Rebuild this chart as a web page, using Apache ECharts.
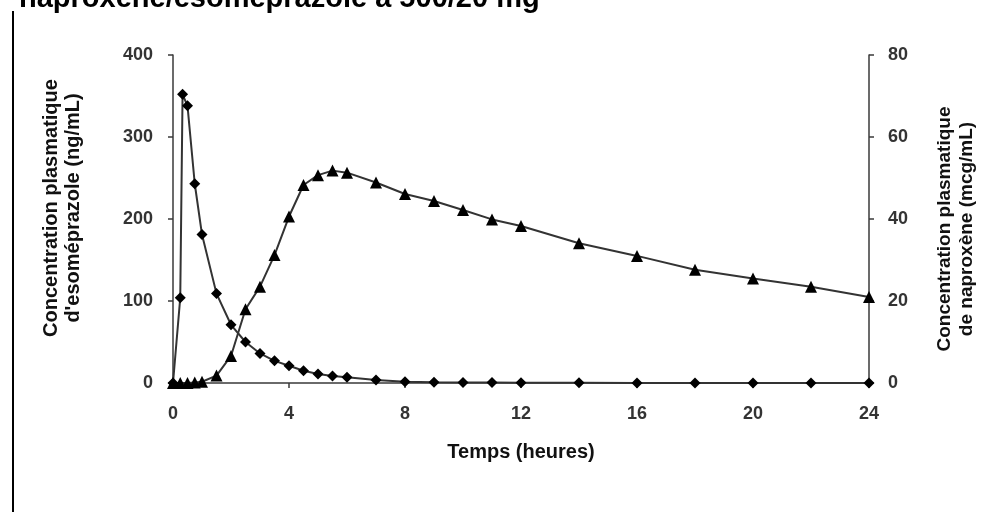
<!DOCTYPE html>
<html>
<head>
<meta charset="utf-8">
<script src="https://cdn.jsdelivr.net/npm/echarts@6/dist/echarts.min.js"></script>
<style>
html,body{margin:0;padding:0;background:#fff;}
#chart{width:987px;height:512px;}
</style>
</head>
<body>
<div id="chart"></div>
<script>
// Data
var esoTimes = [0, 0.25, 0.33, 0.5, 0.75, 1, 1.5, 2, 2.5, 3, 3.5, 4, 4.5, 5, 5.5, 6, 7, 8, 9, 10, 11, 12, 14, 16, 18, 20, 22, 24];
var esoValues = [0, 104, 352, 338, 243, 181, 109, 71, 50, 36, 27, 21, 15, 11, 8.5, 7, 3.7, 1.5, 1, 0.7, 0.5, 0.3, 0.2, 0.1, 0, 0, 0, 0];
var napTimes = [0, 0.25, 0.5, 0.75, 1, 1.5, 2, 2.5, 3, 3.5, 4, 4.5, 5, 5.5, 6, 7, 8, 9, 10, 11, 12, 14, 16, 18, 20, 22, 24];
var napValues = [0, 0, 0, 0.1, 0.3, 1.8, 6.6, 18, 23.5, 31.2, 40.6, 48.3, 50.7, 51.8, 51.3, 48.9, 46.1, 44.4, 42.2, 39.9, 38.3, 34.1, 31, 27.6, 25.5, 23.5, 21];
var xTicks = [0, 4, 8, 12, 16, 20, 24];
var leftTicks = [0, 100, 200, 300, 400];
var rightTicks = [0, 20, 40, 60, 80];
var titleText = "naproxène/esoméprazole à 500/20 mg";
var xName = "Temps (heures)";
var leftName = "Concentration plasmatique\nd'esoméprazole (ng/mL)";
var rightName = "Concentration plasmatique\nde naproxène (mcg/mL)";

function pairs(xs, ys){ return xs.map(function(x,i){ return [x, ys[i]]; }); }

var FONT = "'Liberation Sans', Arial, sans-serif";
var chart = echarts.init(document.getElementById('chart'));
var axisLineStyle = {color:'#3a3a3a', width:1.5};
var labelStyle = {fontFamily:FONT, fontWeight:'bold', fontSize:18, color:'#333'};
chart.setOption({
  animation:false,
  backgroundColor:'#fff',
  grid:{left:173, right:118, top:55, bottom:129},
  xAxis:{
    type:'value', min:xTicks[0], max:xTicks[xTicks.length-1], interval:4,
    name:xName, nameLocation:'middle', nameGap:59,
    nameTextStyle:{fontFamily:FONT, fontWeight:'bold', fontSize:20, color:'#111'},
    axisLine:{onZero:false, lineStyle:axisLineStyle},
    axisTick:{length:5, lineStyle:axisLineStyle},
    axisLabel:Object.assign({margin:22}, labelStyle),
    splitLine:{show:false}
  },
  yAxis:[{
    type:'value', min:leftTicks[0], max:leftTicks[leftTicks.length-1], interval:100,
    axisLine:{show:true, lineStyle:axisLineStyle},
    axisTick:{show:true, length:5, lineStyle:axisLineStyle},
    axisLabel:Object.assign({margin:20}, labelStyle),
    splitLine:{show:false}
  },{
    type:'value', min:rightTicks[0], max:rightTicks[rightTicks.length-1], interval:20, position:'right',
    axisLine:{show:true, lineStyle:axisLineStyle},
    axisTick:{show:true, length:5, lineStyle:axisLineStyle},
    axisLabel:Object.assign({margin:19}, labelStyle),
    splitLine:{show:false}
  }],
  graphic:[
    {type:'rect', shape:{x:12, y:11, width:2, height:501}, style:{fill:'#000'}},
    {type:'text', x:19, y:13, style:{text:titleText, font:"bold 29px 'Liberation Sans', Arial, sans-serif", fill:'#000', verticalAlign:'bottom', textVerticalAlign:'bottom'}},
    {type:'text', x:62, y:208, rotation:Math.PI/2, style:{text:leftName, font:"bold 20px 'Liberation Sans', Arial, sans-serif", fill:'#111', textAlign:'center', textVerticalAlign:'middle', verticalAlign:'middle', lineHeight:22}},
    {type:'text', x:956, y:229, rotation:Math.PI/2, style:{text:rightName, font:"bold 19px 'Liberation Sans', Arial, sans-serif", fill:'#111', textAlign:'center', textVerticalAlign:'middle', verticalAlign:'middle', lineHeight:22}}
  ],
  series:[{
    type:'line', yAxisIndex:0, data:pairs(esoTimes, esoValues),
    symbol:'diamond', symbolSize:11, showAllSymbol:true,
    lineStyle:{color:'#333', width:2}, itemStyle:{color:'#000'}
  },{
    type:'line', yAxisIndex:1, data:pairs(napTimes, napValues),
    symbol:'triangle', symbolSize:12, showAllSymbol:true,
    lineStyle:{color:'#333', width:2}, itemStyle:{color:'#000'}
  }]
});
</script>
</body>
</html>
